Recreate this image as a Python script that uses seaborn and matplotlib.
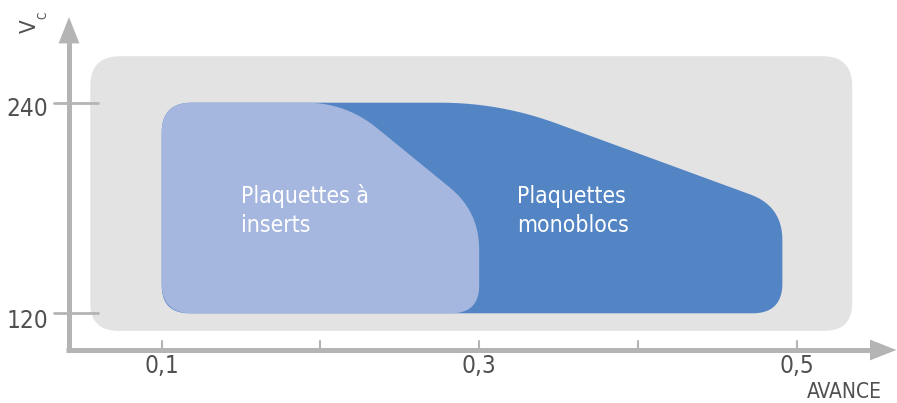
import os
import numpy as np
import matplotlib.pyplot as plt
import matplotlib.font_manager as fm
import seaborn as sns

# feed (avance) / cutting speed (Vc) chart data
FEED_TICKS = [0.1, 0.2, 0.3, 0.4, 0.5]
FEED_LABELS = ["0,1", "", "0,3", "", "0,5"]
VC_TICKS = [120, 240]
VC_LABELS = ["120", "240"]

# outline corners of each zone (feed, Vc)
ZONE_FEED = [0.055, 0.055, 0.535, 0.535]
ZONE_VC = [110, 266.5, 266.5, 110]
MONO_FEED = [0.1, 0.1, 0.313, 0.491, 0.491]
MONO_VC = [120, 240, 240, 181, 120]
INSERT_FEED = [0.1, 0.1, 0.216, 0.3, 0.3]
INSERT_VC = [120, 240, 240, 178, 120]

# pixel scale of the axes (px per data unit), used for round corners
SX = 1587.5
SY = 1.755

AXIS_COL = "#b4b4b4"
TEXT_COL = "#505050"


def pick_font():
    """Look for a narrow sans font, fall back to DejaVu Sans."""
    files = {os.path.basename(f.fname): f.fname for f in fm.fontManager.ttflist}
    for want in ["LiberationSansNarrow-Regular.ttf", "NotoSans-CondensedLight.ttf",
                 "NotoSans-Condensed.ttf", "NotoSans-SemiCondensedLight.ttf",
                 "NotoSans-SemiCondensed.ttf", "DejaVuSansCondensed.ttf"]:
        if want in files:
            return fm.FontProperties(fname=files[want])
    return fm.FontProperties(family="DejaVu Sans")


def rounded_outline(xs, ys, radii, n=14):
    """Round the corners of a polygon, radius given in pixels."""
    pts = np.column_stack([np.asarray(xs) * SX, np.asarray(ys) * SY])
    k = len(pts)
    out = []
    t = np.linspace(0, 1, n)[:, None]
    for i in range(k):
        p, a, b = pts[i], pts[i - 1], pts[(i + 1) % k]
        la, lb = np.linalg.norm(a - p), np.linalg.norm(b - p)
        r = radii[i]
        p1 = p + (a - p) / la * min(r, la / 2)
        p2 = p + (b - p) / lb * min(r, lb / 2)
        out.append((1 - t) ** 2 * p1 + 2 * (1 - t) * t * p + t ** 2 * p2)
    out = np.vstack(out)
    return out[:, 0] / SX, out[:, 1] / SY


sns.set_style("white")
font = pick_font()

fig = plt.figure(figsize=(8.97, 4.03), dpi=100)
ax = fig.add_axes([0, 0, 1, 1])
ax.set_xlim(-0.00186, 0.5632)
ax.set_ylim(68.9, 298.5)
ax.axis("off")

# zones
x, y = rounded_outline(ZONE_FEED, ZONE_VC, [28, 30, 30, 28])
ax.fill(x, y, color="#e3e3e3", lw=0, zorder=1)
x, y = rounded_outline(MONO_FEED, MONO_VC, [28, 30, 60, 34, 30])
ax.fill(x, y, color="#5385c4", lw=0, zorder=2)
x, y = rounded_outline(INSERT_FEED, INSERT_VC, [30, 30, 40, 38, 28])
ax.fill(x, y, color="#a5b6df", lw=0, zorder=3)

# axes with arrows
x0, y0 = 0.0416, 99.1
ax.plot([x0 - 2.5 / SX, 0.548], [y0, y0], color=AXIS_COL, lw=3.6,
        solid_capstyle="butt", zorder=4)
ax.plot([x0, x0], [y0 - 2.5 / SY, 280], color=AXIS_COL, lw=3.6,
        solid_capstyle="butt", zorder=4)
head = "-|>,head_length=1.9,head_width=0.75"
ax.annotate("", xy=(0.5628, y0), xytext=(0.54, y0),
            arrowprops=dict(arrowstyle=head, mutation_scale=10, lw=0,
                            fc=AXIS_COL, ec=AXIS_COL, shrinkA=0, shrinkB=0),
            annotation_clip=False, zorder=5)
ax.annotate("", xy=(x0, 288.8), xytext=(x0, 270),
            arrowprops=dict(arrowstyle=head, mutation_scale=10, lw=0,
                            fc=AXIS_COL, ec=AXIS_COL, shrinkA=0, shrinkB=0),
            annotation_clip=False, zorder=5)


def label(xv, yv, s, size, color=TEXT_COL, va="baseline", **kw):
    p = font.copy()
    p.set_size(size)
    ax.text(xv, yv, s, fontproperties=p, color=color, va=va, **kw)


# ticks
for v, lab in zip(FEED_TICKS, FEED_LABELS):
    ax.plot([v, v], [y0, 104.2], color=AXIS_COL, lw=1.5, zorder=4)
    if lab:
        label(v, 86.0, lab, 17.5, ha="center")
for v, lab, base in zip(VC_TICKS, VC_LABELS, [111.6, 232.4]):
    ax.plot([0.0322, 0.0599], [v, v], color=AXIS_COL, lw=2, zorder=4)
    label(0.0283, base, lab, 17.5, ha="right")

label(0.5537, 71.7, "AVANCE", 15, ha="right")
label(0.0167, 283.7, "V", 16, ha="center", va="center", rotation=90)
label(0.0252, 289.7, "C", 8.5, ha="center", va="center", rotation=90)

# zone labels
label(0.15, 182.85, "Plaquettes à", 16.5, color="white", ha="left", zorder=6)
label(0.15, 166.3, "inserts", 16.5, color="white", ha="left", zorder=6)
label(0.3238, 182.85, "Plaquettes", 16.5, color="white", ha="left", zorder=6)
label(0.3238, 166.3, "monoblocs", 16.5, color="white", ha="left", zorder=6)

fig.savefig("out.png", dpi=100)
